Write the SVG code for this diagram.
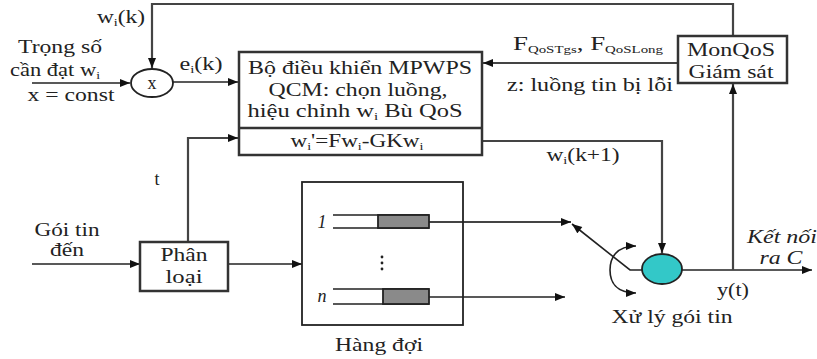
<svg xmlns="http://www.w3.org/2000/svg" width="817" height="359" viewBox="0 0 817 359">
<style>
.t{font-family:"Liberation Serif","Times New Roman",serif;font-size:18px;fill:#222}
.i{font-style:italic}
.box{fill:#fff;stroke:#333;stroke-width:2.5}
.ln{fill:none;stroke:#444;stroke-width:2.2}
.thin{fill:none;stroke:#222;stroke-width:1.6}
</style>
<defs>
<marker id="ah" viewBox="0 0 10 8" refX="10" refY="4" markerWidth="11" markerHeight="8" orient="auto-start-reverse" markerUnits="userSpaceOnUse">
<path d="M0,0 L10,4 L0,8 z" fill="#111"/>
</marker>
</defs>
<rect width="817" height="359" fill="#fff"/>
<g id="connectors">
<path class="ln" d="M733,36 V4 H152 V68" marker-end="url(#ah)"/>
<path class="thin" d="M32,83 H130" marker-end="url(#ah)"/>
<path class="thin" d="M173,82 H238" marker-end="url(#ah)"/>
<path class="ln" d="M678,63 H483" marker-end="url(#ah)"/>
<path class="ln" d="M483,141 H662 V253" marker-end="url(#ah)"/>
<path class="ln" d="M188,242 V138 H238" marker-end="url(#ah)"/>
<path class="thin" d="M32,264 H140" marker-end="url(#ah)"/>
<path class="thin" d="M228,264 H302" marker-end="url(#ah)"/>
<path class="ln" d="M429,222 H571" marker-end="url(#ah)"/>
<path class="thin" d="M429,297 H565" marker-end="url(#ah)"/>
<path class="thin" d="M642,270 H630 L572,224" marker-end="url(#ah)"/>
<path class="thin" d="M636,246 C616,246 610,258 610,270 C610,282 616,293 636,293" marker-start="url(#ah)" marker-end="url(#ah)"/>
<path class="thin" d="M682,270 H812" marker-end="url(#ah)"/>
<path class="ln" d="M733,270 V84" marker-end="url(#ah)"/>
</g>
<g id="sum">
<ellipse cx="152" cy="83" rx="21" ry="14" fill="#fff" stroke="#222" stroke-width="1.8"/>
<text class="t" x="152" y="89" text-anchor="middle">x</text>
</g>
<g id="controller">
<rect class="box" x="239" y="52" width="243" height="103"/>
<line x1="239" y1="128" x2="482" y2="128" stroke="#333" stroke-width="2.5"/>
<text class="t" x="360" y="74" text-anchor="middle" textLength="224" lengthAdjust="spacingAndGlyphs">Bộ điều khiển MPWPS</text>
<text class="t" x="358" y="96" text-anchor="middle" textLength="179" lengthAdjust="spacingAndGlyphs">QCM: chọn luồng,</text>
<text class="t" x="355" y="117" text-anchor="middle" textLength="215" lengthAdjust="spacingAndGlyphs">hiệu chỉnh w<tspan font-size="11" dy="3">i</tspan><tspan dy="-3"> Bù QoS</tspan></text>
<text class="t" x="357" y="147" text-anchor="middle" textLength="133" lengthAdjust="spacingAndGlyphs">w<tspan font-size="11" dy="3">i</tspan><tspan dy="-3">'=Fw</tspan><tspan font-size="11" dy="3">i</tspan><tspan dy="-3">-GKw</tspan><tspan font-size="11" dy="3">i</tspan></text>
</g>
<g id="monqos">
<rect class="box" x="678" y="36" width="109" height="47"/>
<text class="t" x="731" y="56" text-anchor="middle" textLength="88" lengthAdjust="spacingAndGlyphs">MonQoS</text>
<text class="t" x="731" y="78" text-anchor="middle" textLength="85" lengthAdjust="spacingAndGlyphs">Giám sát</text>
</g>
<g id="classifier">
<rect class="box" x="140" y="242" width="88" height="49"/>
<text class="t" x="184" y="261" text-anchor="middle" textLength="47" lengthAdjust="spacingAndGlyphs">Phân</text>
<text class="t" x="184" y="283" text-anchor="middle" textLength="37" lengthAdjust="spacingAndGlyphs">loại</text>
</g>
<g id="queues">
<rect x="302" y="182" width="161" height="143" fill="none" stroke="#222" stroke-width="1.8"/>
<path class="thin" d="M333,215 H429 M333,228 H429 M333,289 H429 M333,304 H429"/>
<rect x="378" y="215" width="51" height="13" fill="#8a8a8a" stroke="#222" stroke-width="1.8"/>
<rect x="383" y="289" width="46" height="15" fill="#8a8a8a" stroke="#222" stroke-width="1.8"/>
<circle cx="382" cy="257" r="1.4" fill="#222"/>
<circle cx="382" cy="263" r="1.4" fill="#222"/>
<circle cx="382" cy="269" r="1.4" fill="#222"/>
<text class="t i" x="322" y="228" text-anchor="middle">1</text>
<text class="t i" x="322" y="302" text-anchor="middle">n</text>
<text class="t" x="379" y="351" text-anchor="middle" textLength="88" lengthAdjust="spacingAndGlyphs">Hàng đợi</text>
</g>
<g id="processor">
<ellipse cx="662" cy="269" rx="20" ry="15" fill="#33c8c8" stroke="#222" stroke-width="1.8"/>
<text class="t" x="672" y="323" text-anchor="middle" textLength="121" lengthAdjust="spacingAndGlyphs">Xử lý gói tin</text>
</g>
<g id="labels">
<text class="t" x="121" y="23" text-anchor="middle" textLength="48" lengthAdjust="spacingAndGlyphs">w<tspan font-size="11" dy="3">i</tspan><tspan dy="-3">(k)</tspan></text>
<text class="t" x="60" y="53" text-anchor="middle" textLength="84" lengthAdjust="spacingAndGlyphs">Trọng số</text>
<text class="t" x="55" y="76" text-anchor="middle" textLength="90" lengthAdjust="spacingAndGlyphs">cần đạt w<tspan font-size="11" dy="3">i</tspan></text>
<text class="t" x="71" y="101" text-anchor="middle" textLength="87" lengthAdjust="spacingAndGlyphs">x = const</text>
<text class="t" x="201" y="70" text-anchor="middle" textLength="43" lengthAdjust="spacingAndGlyphs">e<tspan font-size="11" dy="3">i</tspan><tspan dy="-3">(k)</tspan></text>
<text class="t" x="588" y="50" text-anchor="middle" textLength="150" lengthAdjust="spacingAndGlyphs">F<tspan font-size="10" dy="3">QoSTgs</tspan><tspan dy="-3">, F</tspan><tspan font-size="10" dy="3">QoSLong</tspan></text>
<text class="t" x="590" y="91" text-anchor="middle" textLength="166" lengthAdjust="spacingAndGlyphs">z: luồng tin bị lỗi</text>
<text class="t" x="583" y="161" text-anchor="middle" textLength="73" lengthAdjust="spacingAndGlyphs">w<tspan font-size="11" dy="3">i</tspan><tspan dy="-3">(k+1)</tspan></text>
<text class="t" x="157" y="185" text-anchor="middle">t</text>
<text class="t" x="67" y="236" text-anchor="middle" textLength="65" lengthAdjust="spacingAndGlyphs">Gói tin</text>
<text class="t" x="67" y="256" text-anchor="middle" textLength="34" lengthAdjust="spacingAndGlyphs">đến</text>
<text class="t i" x="782" y="243" text-anchor="middle" textLength="70" lengthAdjust="spacingAndGlyphs">Kết nối</text>
<text class="t i" x="781" y="264" text-anchor="middle" textLength="43" lengthAdjust="spacingAndGlyphs">ra C</text>
<text class="t" x="733" y="296" text-anchor="middle" textLength="32" lengthAdjust="spacingAndGlyphs">y(t)</text>
</g>
</svg>
